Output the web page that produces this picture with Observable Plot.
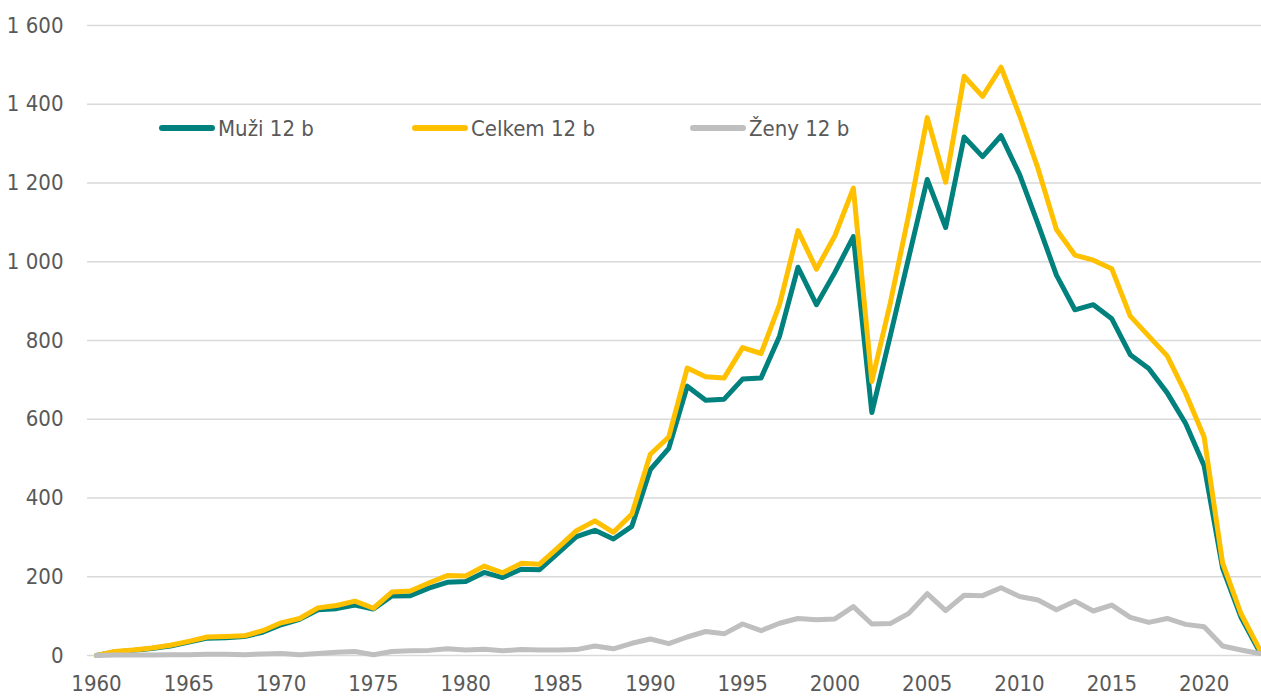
<!DOCTYPE html>
<html>
<head>
<meta charset="utf-8">
<script src="https://cdn.jsdelivr.net/npm/d3@7"></script>
<script src="https://cdn.jsdelivr.net/npm/@observablehq/plot@0.6"></script>
<style>
  html, body { margin: 0; padding: 0; background: #fff; }
  #wrap { position: relative; width: 1261px; height: 697px; }
  .legend { position: absolute; top: 113px; left: 0; width: 1261px; height: 30px;
            font-family: "Liberation Sans Narrow", "DejaVu Sans Condensed", sans-serif;
            font-size: 22px; color: #595959; }
  .item { position: absolute; top: 0; display: flex; align-items: center; height: 30px; }
  .sw { display: inline-block; width: 56px; height: 6px; border-radius: 3px; margin-right: 3px; }
</style>
</head>
<body>
<div id="wrap"></div>
<script>
const years = d3.range(1960, 2024);
const seriesNames = ["Muži 12 b", "Celkem 12 b", "Ženy 12 b"];
const seriesColors = ["#00817D", "#FFC000", "#BFBFBF"];

const muzi = [0,9,13,18,24,34,44,45,48,59,
  78,92,116,119,128,118,151,152,171,186,
  188,211,198,219,218,260,302,318,296,328,
  472,526,684,648,651,702,705,811,986,891,
  973,1064,617,812,1011,1209,1087,1317,1267,1320,
  1222,1096,966,878,891,855,764,729,667,589,
  482,222,97,10];
const celkem = [0,10,14,19,26,36,47,48,50,63,
  83,94,121,127,138,120,161,164,184,203,
  202,227,210,234,232,274,317,342,313,359,
  511,555,730,708,705,782,767,891,1079,981,
  1066,1187,696,895,1120,1366,1202,1471,1420,1494,
  1372,1237,1082,1017,1004,982,862,811,761,666,
  555,235,106,16];
const zeny = [0,1,1,1,2,2,3,3,2,4,
  5,2,5,8,10,2,10,12,13,17,
  14,16,12,15,14,14,15,24,17,31,
  42,30,47,61,55,80,63,82,94,91,
  93,124,80,81,107,157,114,153,152,172,
  150,141,116,138,113,128,97,84,94,79,
  73,24,14,5];

const xTicks = d3.range(1960, 2021, 5);
const yTicks = d3.range(0, 1601, 200);

const seriesValues = [muzi, celkem, zeny];
const rows = [];
seriesNames.forEach((name, i) => {
  years.forEach((yr, j) => rows.push({series: name, year: yr, value: seriesValues[i][j]}));
});

const fmtY = d => d3.format(",")(d).replace(/,/g, "\u00a0");

const chart = Plot.plot({
  width: 1261,
  height: 697,
  marginLeft: 87,
  marginRight: 0,
  marginTop: 25,
  marginBottom: 42,
  style: {
    fontFamily: '"Liberation Sans Narrow", "DejaVu Sans Condensed", sans-serif',
    fontSize: "22px",
    color: "#595959",
    background: "#fff",
    overflow: "visible"
  },
  x: {domain: [1960, 2023], insetLeft: 9, insetRight: 2, label: null},
  y: {domain: [0, 1600], label: null},
  color: {domain: seriesNames, range: seriesColors},
  marks: [
    Plot.gridY(yTicks, {stroke: "#D9D9D9", strokeOpacity: 1, strokeWidth: 1.5}),
    Plot.axisY(yTicks, {tickSize: 0, tickPadding: 24, tickFormat: fmtY, fill: "#595959", label: null}),
    Plot.axisX(xTicks, {tickSize: 0, tickPadding: 20, tickFormat: d => String(d), fill: "#595959", label: null}),
    Plot.lineY(rows, {x: "year", y: "value", z: "series", stroke: "series",
      strokeWidth: 5, strokeLinejoin: "round", strokeLinecap: "round"})
  ]
});
document.getElementById("wrap").appendChild(chart);

// legend
const legend = document.createElement("div");
legend.className = "legend";
const lefts = [159, 412, 690];
seriesNames.forEach((name, i) => {
  const it = document.createElement("div");
  it.className = "item";
  it.style.left = lefts[i] + "px";
  const sw = document.createElement("span");
  sw.className = "sw";
  sw.style.background = seriesColors[i];
  const tx = document.createElement("span");
  tx.textContent = name;
  it.appendChild(sw);
  it.appendChild(tx);
  legend.appendChild(it);
});
document.getElementById("wrap").appendChild(legend);
</script>
</body>
</html>
